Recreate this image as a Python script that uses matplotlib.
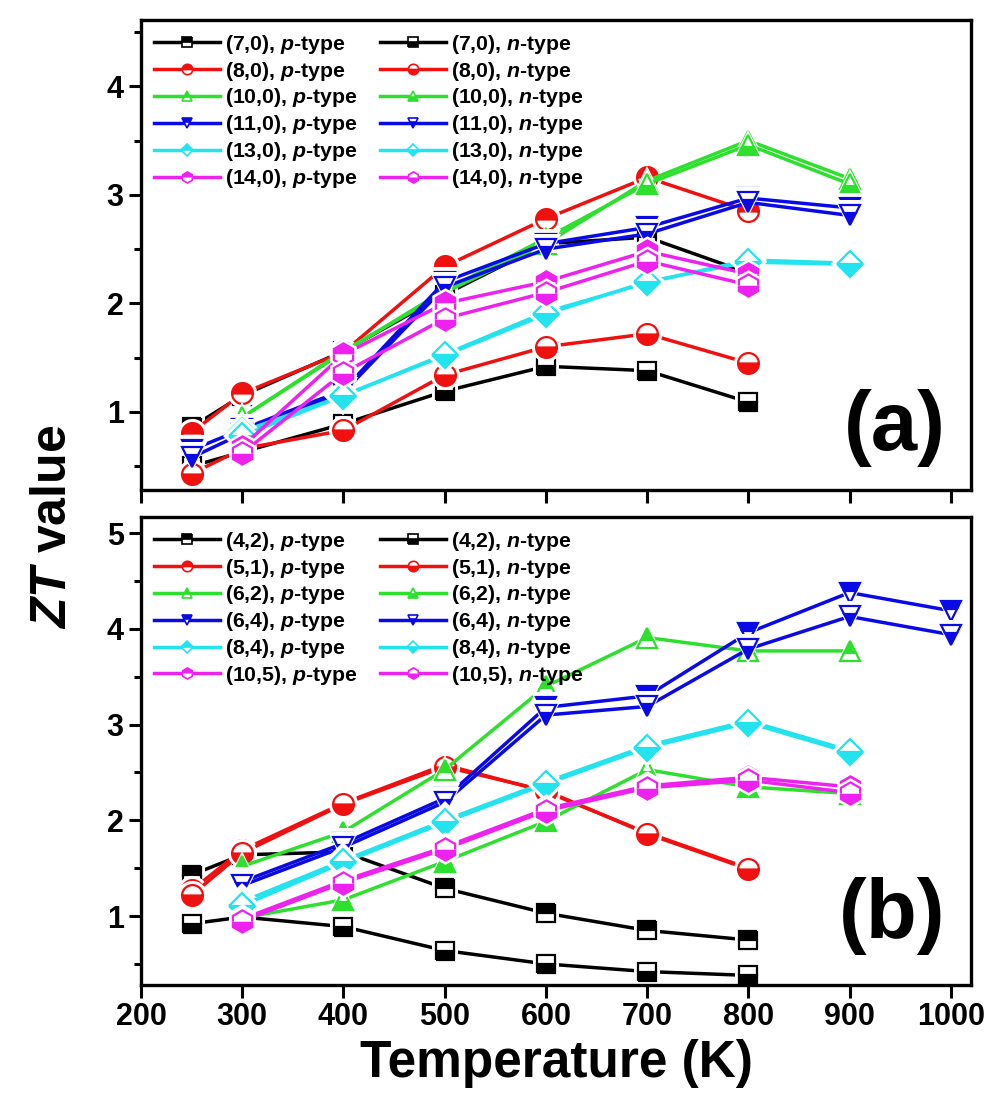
import numpy as np
import matplotlib
matplotlib.use("Agg")
import matplotlib.pyplot as plt
from matplotlib.ticker import MultipleLocator
from matplotlib import font_manager

nan = np.nan
# ---------------- data ----------------
T_a = [250, 300, 400, 500, 600, 700, 800, 900]
labels_a = ["(7,0)", "(8,0)", "(10,0)", "(11,0)", "(13,0)", "(14,0)"]
a_p = [
    [0.86, 1.15, 1.56, 2.08, 2.55, 2.61, 2.28, nan],
    [0.81, 1.17, 1.55, 2.34, 2.78, 3.16, 2.85, nan],
    [nan, 0.95, 1.56, 2.10, 2.55, 3.13, 3.50, 3.15],
    [0.65, 0.84, 1.20, 2.20, 2.55, 2.70, 2.97, 2.88],
    [nan, 0.82, 1.15, 1.53, 1.92, 2.19, 2.40, 2.37],
    [nan, 0.68, 1.53, 2.00, 2.20, 2.48, 2.27, nan],
]
a_n = [
    [0.50, 0.63, 0.89, 1.19, 1.42, 1.38, 1.09, nan],
    [0.43, 0.66, 0.83, 1.34, 1.60, 1.72, 1.45, nan],
    [nan, 0.95, 1.55, 2.12, 2.60, 3.10, 3.46, 3.10],
    [0.58, 0.80, 1.18, 2.15, 2.50, 2.64, 2.93, 2.81],
    [nan, 0.78, 1.15, 1.52, 1.90, 2.20, 2.38, 2.36],
    [nan, 0.62, 1.36, 1.86, 2.10, 2.39, 2.17, nan],
]

T_b = [250, 300, 400, 500, 600, 700, 800, 900, 1000]
labels_b = ["(4,2)", "(5,1)", "(6,2)", "(6,4)", "(8,4)", "(10,5)"]
b_p = [
    [1.43, 1.64, 1.67, 1.29, 1.03, 0.85, 0.75, nan, nan],
    [1.27, 1.69, 2.18, 2.58, 2.30, 1.87, 1.50, nan, nan],
    [nan, 1.52, 1.88, 2.53, 3.40, 3.91, 3.77, 3.77, nan],
    [nan, 1.36, 1.76, 2.23, 3.18, 3.30, 3.96, 4.38, 4.19],
    [nan, 1.15, 1.58, 2.00, 2.40, 2.78, 3.04, 2.73, nan],
    [nan, 0.97, 1.37, 1.72, 2.12, 2.36, 2.45, 2.35, nan],
]
b_n = [
    [0.92, 0.99, 0.89, 0.64, 0.50, 0.42, 0.38, nan, nan],
    [1.22, 1.66, 2.17, 2.56, 2.31, 1.86, 1.49, nan, nan],
    [nan, 0.98, 1.17, 1.57, 1.99, 2.53, 2.35, 2.28, nan],
    [nan, 1.32, 1.72, 2.19, 3.10, 3.19, 3.79, 4.13, 3.94],
    [nan, 1.11, 1.56, 1.98, 2.38, 2.76, 3.02, 2.71, nan],
    [nan, 0.95, 1.35, 1.70, 2.10, 2.34, 2.42, 2.29, nan],
]

colors = ["#000000", "#F01010", "#2EE02E", "#0A0AE6", "#22E3EE", "#EE22EE"]
markers = ["s", "o", "^", "v", "D", "h"]
msizes = [13, 15, 15, 15, 13, 16]

# ---------------- style ----------------
plt.rcParams["font.family"] = ["Liberation Sans", "DejaVu Sans"]
plt.rcParams["font.weight"] = "bold"
plt.rcParams["mathtext.fontset"] = "custom"
plt.rcParams["mathtext.it"] = "Liberation Sans:bold:italic"
plt.rcParams["mathtext.rm"] = "Liberation Sans:bold"
plt.rcParams["mathtext.bf"] = "Liberation Sans:bold"

names = {f.name for f in font_manager.fontManager.ttflist}
narrow = "Liberation Sans Narrow" if "Liberation Sans Narrow" in names else None
tick_family = [narrow, "Liberation Sans"] if narrow else ["Liberation Sans"]
tick_size = 25 if narrow else 22
xl_size = 44 if narrow else 37

fig = plt.figure(figsize=(10, 11.16), dpi=100)
ax_a = fig.add_axes([0.141, 0.5609, 0.830, 0.4211])
ax_b = fig.add_axes([0.141, 0.1174, 0.830, 0.4194])


def draw(ax, T, p_vals, n_vals, labels):
    handles, labs = [], []
    for i in range(len(labels)):
        for vals, fs, kind in ((p_vals[i], "top", "p"), (n_vals[i], "bottom", "n")):
            ax.plot(T, vals, color=colors[i], lw=2.5, zorder=2)
            # white halo to give the Origin-style gap around each symbol
            ax.plot(T, vals, ls="none", marker=markers[i], ms=msizes[i] + 6,
                    mfc="white", mec="white", mew=0, zorder=2)
            ax.plot(T, vals, ls="none", marker=markers[i],
                    ms=msizes[i], mew=1.6, mec=colors[i], mfc=colors[i],
                    mfcalt="white", fillstyle=fs, zorder=2)
            proxy, = ax.plot([], [], color=colors[i], lw=2.5, marker=markers[i],
                             ms=msizes[i], mew=1.2, mec=colors[i],
                             mfc=colors[i], mfcalt="white", fillstyle=fs)
            handles.append(proxy)
            labs.append(f"{labels[i]}, ${kind}$-type")
    order = list(range(0, len(handles), 2)) + list(range(1, len(handles), 2))
    ax.legend([handles[k] for k in order], [labs[k] for k in order], ncol=2,
              loc="upper left", frameon=False, handlelength=3.1,
              markerscale=0.5, labelspacing=0.18, columnspacing=1.05,
              handletextpad=0.25, borderaxespad=0.2,
              prop={"weight": "bold", "size": 15.3})


draw(ax_a, T_a, a_p, a_n, labels_a)
draw(ax_b, T_b, b_p, b_n, labels_b)

for ax in (ax_a, ax_b):
    ax.set_xlim(200, 1020)
    ax.xaxis.set_major_locator(MultipleLocator(100))
    ax.yaxis.set_major_locator(MultipleLocator(1))
    ax.yaxis.set_minor_locator(MultipleLocator(0.5))
    ax.tick_params(axis="both", which="major", direction="out", length=9,
                   width=2.2, labelsize=tick_size, top=False, right=False)
    ax.tick_params(axis="y", which="minor", direction="out", length=5,
                   width=2.2, right=False)
    for s in ax.spines.values():
        s.set_linewidth(2.4)
    for lab in ax.get_xticklabels() + ax.get_yticklabels():
        lab.set_fontweight("bold")
        lab.set_family(tick_family)

ax_a.set_ylim(0.28, 4.61)
ax_b.set_ylim(0.28, 5.17)
ax_a.tick_params(axis="x", labelbottom=False)

ax_a.text(0.969, 0.085, "(a)", transform=ax_a.transAxes, ha="right",
          va="baseline", fontsize=60, fontweight="bold")
ax_b.text(0.969, 0.10, "(b)", transform=ax_b.transAxes, ha="right",
          va="baseline", fontsize=60, fontweight="bold")

fig.text(0.556, 0.047, "Temperature (K)", ha="center", va="center",
         fontsize=xl_size, fontweight="bold", family=tick_family)
fig.text(0.053, 0.528, r"$ZT$ value", ha="center", va="center",
         rotation=90, fontsize=36, fontweight="bold")

fig.savefig("out.png", dpi=100)
